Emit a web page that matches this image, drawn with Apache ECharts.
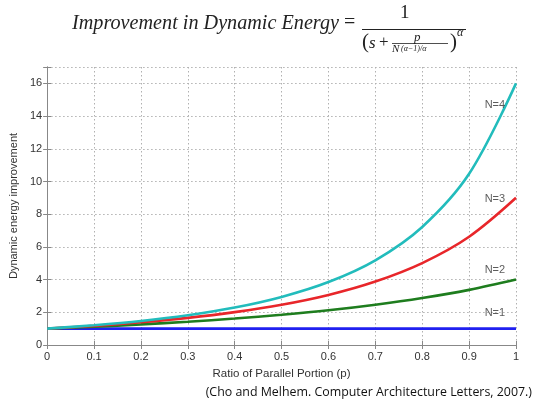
<!DOCTYPE html>
<html>
<head>
<meta charset="utf-8">
<script src="https://cdn.jsdelivr.net/npm/echarts@6/dist/echarts.min.js"></script>
<style>
html,body{margin:0;padding:0;background:#fff;}
#c{width:535px;height:406px;}
</style>
</head>
<body>
<div id="c"></div>
<script>
// Data
const pValues = [0, 0.1, 0.2, 0.3, 0.4, 0.5, 0.6, 0.7, 0.8, 0.9, 1.0];
const seriesN4 = [1, 1.21, 1.47, 1.82, 2.29, 2.94, 3.85, 5.18, 7.22, 10.47, 16];
const seriesN3 = [1, 1.17, 1.39, 1.66, 2.01, 2.46, 3.06, 3.88, 5.01, 6.62, 9];
const seriesN2 = [1, 1.12, 1.26, 1.42, 1.62, 1.85, 2.12, 2.46, 2.87, 3.37, 4];
const seriesN1 = [1, 1, 1, 1, 1, 1, 1, 1, 1, 1, 1];
const seriesNames = ['N=4', 'N=3', 'N=2', 'N=1'];
const labelX = [0.955, 0.955, 0.955, 0.955];
const labelY = [14.65, 8.9, 4.6, 1.95];
const yTicks = [0, 2, 4, 6, 8, 10, 12, 14, 16];

const colors = ['#22bcbc', '#e8262a', '#1e7d1e', '#2020f0'];
const allSeries = [seriesN4, seriesN3, seriesN2, seriesN1];

const chart = echarts.init(document.getElementById('c'), null, {renderer: 'canvas'});

const lineSeries = allSeries.map((vals, i) => ({
  type: 'line',
  name: seriesNames[i],
  data: pValues.map((p, j) => [p, vals[j]]),
  smooth: 0.35,
  symbol: 'none',
  lineStyle: {color: colors[i], width: 2.6},
  z: 10 - i
}));

const labelSeries = {
  type: 'scatter',
  symbolSize: 0,
  data: seriesNames.map((n, i) => ({value: [labelX[i], labelY[i]], name: n})),
  label: {
    show: true,
    position: 'inside',
    formatter: p => p.name,
    color: '#333',
    fontFamily: 'Liberation Sans',
    fontSize: 11
  },
  z: 20
};

const gridLine = {show: true, lineStyle: {color: '#b0b0b0', type: [1.5, 2.5], width: 1}};
const axisLineStyle = {show: true, lineStyle: {color: '#888', width: 1}};

chart.setOption({
  animation: false,
  backgroundColor: '#fff',
  grid: {left: 46, right: 19, top: 67, bottom: 61, show: false},
  xAxis: [{
    type: 'value', min: 0, max: 1, interval: 0.1,
    axisLine: axisLineStyle,
    axisTick: {show: true, inside: true, length: 4, lineStyle: {color: '#888'}},
    axisLabel: {color: '#333', fontFamily: 'Liberation Sans', fontSize: 11, margin: 6,
      formatter: v => String(Math.round(v * 10) / 10)},
    splitLine: gridLine,
    name: 'Ratio of Parallel Portion (p)',
    nameLocation: 'middle', nameGap: 23,
    nameTextStyle: {color: '#333', fontFamily: 'Liberation Sans', fontSize: 11.5}
  }, {
    type: 'value', min: 0, max: 1, interval: 0.1, position: 'top',
    axisLine: axisLineStyle,
    axisTick: {show: true, inside: true, length: 4, lineStyle: {color: '#888'}},
    axisLabel: {show: false}, splitLine: {show: false}
  }],
  yAxis: [{
    type: 'value', min: 0, max: 17, interval: 2,
    axisLine: axisLineStyle,
    axisTick: {show: true, inside: true, length: 4, lineStyle: {color: '#888'}},
    axisLabel: {color: '#333', fontFamily: 'Liberation Sans', fontSize: 11, margin: 5,
      formatter: v => (yTicks.indexOf(v) >= 0 ? String(v) : '')},
    splitLine: gridLine,
    name: 'Dynamic energy improvement',
    nameLocation: 'middle', nameGap: 22, nameRotate: 90,
    nameTextStyle: {color: '#333', fontFamily: 'Liberation Sans', fontSize: 11}
  }, {
    type: 'value', min: 0, max: 17, interval: 2, position: 'right',
    axisLine: axisLineStyle,
    axisTick: {show: true, inside: true, length: 4, lineStyle: {color: '#888'}},
    axisLabel: {show: false}, splitLine: {show: false}
  }],
  series: lineSeries.concat([labelSeries]),
  graphic: [
    {type: 'text', left: 72, top: 14, style: {text: 'Improvement in Dynamic Energy', font: 'italic 20.2px "Liberation Serif"', fill: '#222'}},
    {type: 'text', left: 344, top: 13, style: {text: '=', font: '20px "Liberation Serif"', fill: '#222'}},
    {type: 'text', left: 400, top: 4, style: {text: '1', font: '19px "Liberation Serif"', fill: '#222'}},
    {type: 'line', shape: {x1: 362, y1: 29.5, x2: 466, y2: 29.5}, style: {stroke: '#222', lineWidth: 1.2}},
    {type: 'text', left: 362, top: 32, style: {text: '(', font: '21px "Liberation Serif"', fill: '#222'}},
    {type: 'text', left: 369, top: 35, style: {text: 's', font: 'italic 17px "Liberation Serif"', fill: '#222'}},
    {type: 'text', left: 379, top: 34, style: {text: '+', font: '17px "Liberation Serif"', fill: '#222'}},
    {type: 'text', left: 414, top: 31, style: {text: 'p', font: 'italic 13px "Liberation Serif"', fill: '#222'}},
    {type: 'line', shape: {x1: 392, y1: 43.5, x2: 448, y2: 43.5}, style: {stroke: '#222', lineWidth: 0.8}},
    {type: 'text', left: 392, top: 44, style: {text: 'N', font: 'italic 11px "Liberation Serif"', fill: '#222'}},
    {type: 'text', left: 401, top: 45, style: {text: '(α−1)/α', font: 'italic 8px "Liberation Serif"', fill: '#222'}},
    {type: 'text', left: 450, top: 32, style: {text: ')', font: '21px "Liberation Serif"', fill: '#222'}},
    {type: 'text', left: 457, top: 27, style: {text: 'α', font: 'italic 12px "Liberation Serif"', fill: '#222'}},
    {type: 'text', right: 3, top: 386, style: {text: '(Cho and Melhem. Computer Architecture Letters, 2007.)', font: '12.4px "Open Sans"', fill: '#111'}}
  ]
});
</script>
</body>
</html>
